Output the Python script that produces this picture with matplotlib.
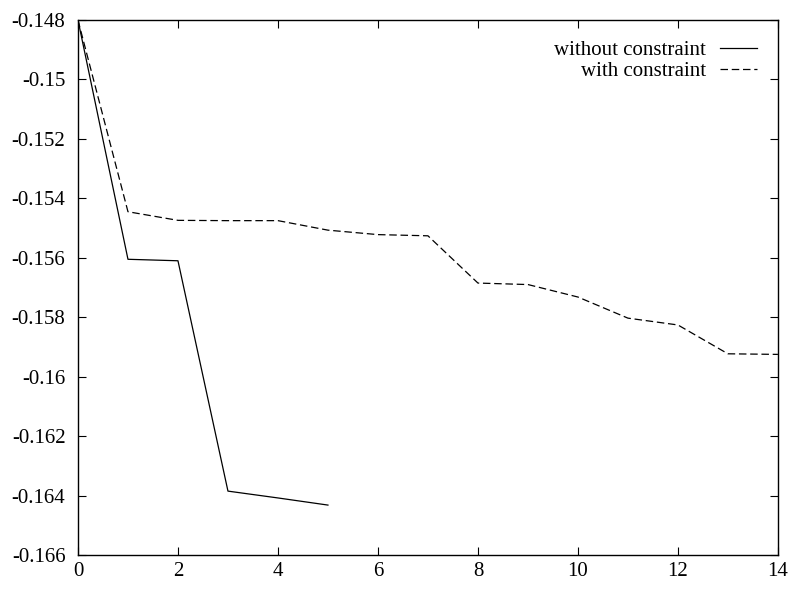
import matplotlib
matplotlib.use("Agg")
import matplotlib.pyplot as plt

# iteration index and objective values
x_without = [0, 1, 2, 3, 4, 5]
y_without = [-0.148, -0.15605, -0.1561, -0.16385, -0.16408, -0.16432]

x_with = list(range(15))
y_with = [-0.148, -0.15445, -0.15474, -0.15475, -0.15475, -0.15507, -0.15522,
          -0.15526, -0.15685, -0.1569, -0.15732, -0.15803, -0.15826, -0.15923,
          -0.15925]

xticks = [0, 2, 4, 6, 8, 10, 12, 14]
yticks = [-0.148, -0.15, -0.152, -0.154, -0.156, -0.158, -0.16, -0.162, -0.164, -0.166]
ytick_labels = ["-0.148", "-0.15", "-0.152", "-0.154", "-0.156", "-0.158",
                "-0.16", "-0.162", "-0.164", "-0.166"]

plt.rcParams["font.family"] = ["Liberation Serif", "DejaVu Serif"]
plt.rcParams["font.size"] = 15

fig = plt.figure(figsize=(7.9, 5.89), dpi=100)
ax = fig.add_axes([0.0987, 0.0577, 0.886, 0.9083])

ax.plot(x_without, y_without, color="black", lw=0.9, label="without constraint")
ax.plot(x_with, y_with, color="black", lw=0.9, dashes=(6, 3), label="with constraint")

ax.set_xlim(0, 14)
ax.set_ylim(-0.166, -0.148)
ax.set_xticks(xticks)
ax.set_xticklabels([str(t) for t in xticks])
ax.set_yticks(yticks)
ax.set_yticklabels(ytick_labels)
ax.tick_params(direction="in", top=True, right=True, length=6, width=0.8)
ax.tick_params(axis="y", pad=9)
ax.tick_params(axis="x", pad=5)
for s in ax.spines.values():
    s.set_linewidth(1.0)

leg = ax.legend(loc="upper right", frameon=False, markerfirst=False,
                handlelength=1.8, handletextpad=0.65, labelspacing=0.05,
                borderaxespad=0.6, fontsize=15)
for t in leg.get_texts():
    t.set_ha("right")

fig.savefig("out.png", dpi=100)
